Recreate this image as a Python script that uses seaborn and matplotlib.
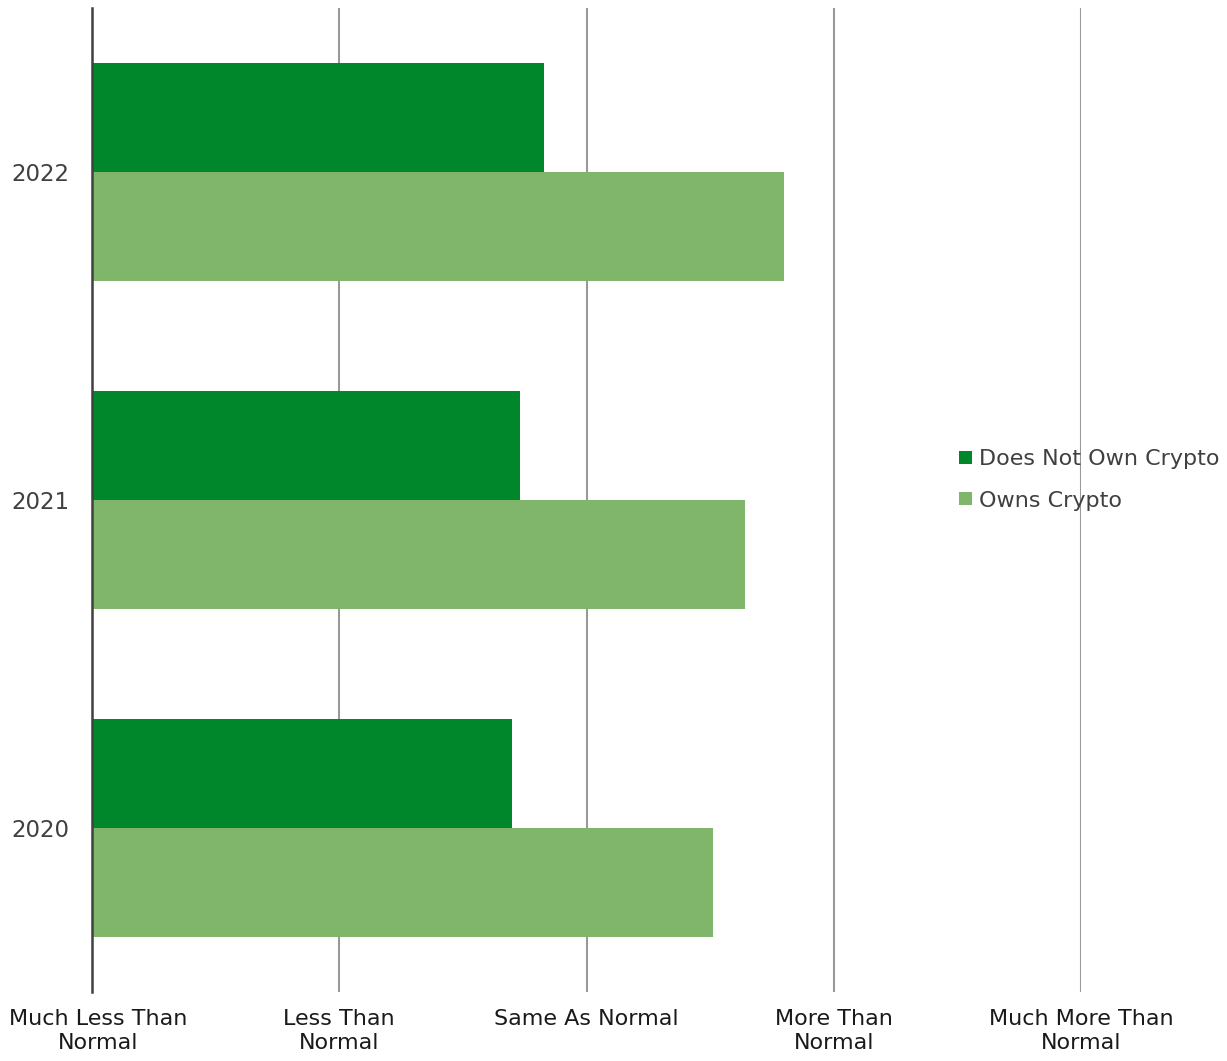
import matplotlib
matplotlib.use("Agg")
import matplotlib.pyplot as plt
import matplotlib.transforms as mtransforms
import seaborn as sns
import pandas as pd

# Average reported spending level by year (1 = Much Less Than Normal ... 5 = Much More Than Normal)
years = ["2022", "2021", "2020"]
does_not_own = [2.83, 2.73, 2.70]
owns = [3.80, 3.64, 3.51]
groups = ["Does Not Own Crypto", "Owns Crypto"]
scale_labels = ["Much Less Than\nNormal", "Less Than\nNormal", "Same As Normal",
                "More Than\nNormal", "Much More Than\nNormal"]
scale_values = [1, 2, 3, 4, 5]

df = pd.DataFrame({
    "year": years * 2,
    "score": does_not_own + owns,
    "group": [groups[0]] * len(years) + [groups[1]] * len(years),
})

sns.set_style("white")
plt.rcParams["font.family"] = ["DejaVu Sans"]

fig = plt.figure(figsize=(12.27, 10.61), dpi=100)
ax = fig.add_axes([0.075, 1 - 992 / 1061, 0.806, (992 - 8) / 1061])

palette = {groups[0]: "#00872B", groups[1]: "#7FB66B"}
sns.barplot(data=df, x="score", y="year", hue="group", order=years,
            hue_order=groups, palette=palette, orient="h", width=0.665,
            saturation=1, ax=ax, zorder=2, legend=True, linewidth=0,
            edgecolor="none")

ax.set_xlim(1, 5)
ax.set_xticks(scale_values)
ax.set_xticklabels(scale_labels, fontsize=16, color="#1a1a1a", va="top",
                   linespacing=1.25)
ax.tick_params(axis="x", length=0, pad=12)
ax.tick_params(axis="y", length=0, pad=16, labelsize=16.5, labelcolor="#404040")
ax.set_xlabel("")
ax.set_ylabel("")

# shift the first scale label a little to the right, away from the canvas edge
first = ax.get_xticklabels()[0]
first.set_transform(mtransforms.offset_copy(first.get_transform(), fig=fig,
                                            x=6, y=0, units="dots"))

ax.grid(axis="x", color="#999999", linewidth=1.5, zorder=0)
ax.grid(axis="y", visible=False)
ax.set_axisbelow(True)
for side in ["top", "right", "bottom"]:
    ax.spines[side].set_visible(False)
ax.spines["left"].set_color("#404040")
ax.spines["left"].set_linewidth(1.8)
ax.spines["left"].set_zorder(3)

handles, labels = ax.get_legend_handles_labels()
ax.legend_.remove()
leg = fig.legend(handles, labels, loc="center left",
                 bbox_to_anchor=(955 / 1227, 1 - 480 / 1061),
                 frameon=False, fontsize=16, handlelength=0.55,
                 handleheight=0.55, handletextpad=0.35, labelspacing=0.95,
                 borderaxespad=0, borderpad=0.2)
for t in leg.get_texts():
    t.set_color("#404040")

fig.savefig("out.png", dpi=100)
